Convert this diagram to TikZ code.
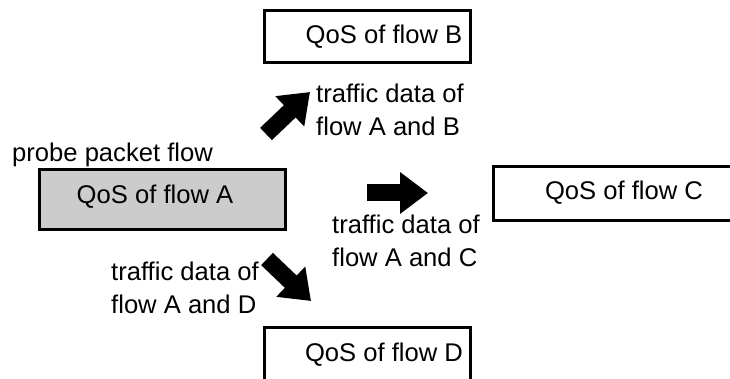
\documentclass[tikz,border=0pt]{standalone}
\usepackage{fontspec}
\setmainfont{Liberation Sans}
\usetikzlibrary{arrows.meta}
\begin{document}
\begin{tikzpicture}[x=1pt,y=-1pt,
  every node/.style={font=\fontsize{25.6}{33}\selectfont},
  qosbox/.style={draw, line width=3pt, minimum height=54pt, inner sep=0pt},
  label/.style={align=left, anchor=west, inner sep=0pt},
  blockarrow/.style={line width=17pt, -{Triangle[length=28pt,width=40pt]}}]
  \useasboundingbox (0,0) rectangle (730,379);
  \begin{scope}
  \clip (0,0) rectangle (730,379);
  % boxes for the QoS of each flow
  \node[qosbox, fill=black!20, minimum width=246pt, minimum height=60pt] (qa) at (162,200) {};
  \node[qosbox, minimum width=206pt, minimum height=52pt] (qb) at (367,37) {};
  \node[qosbox, minimum width=260pt] (qc) at (623,194) {};
  \node[qosbox, minimum width=206pt, minimum height=60pt] (qd) at (367,357) {};
  \end{scope}
  \node[inner sep=0pt] (ta) at (155,197) {QoS of flow A};
  \node[inner sep=0pt] (tb) at (384,37) {QoS of flow B};
  \node[inner sep=0pt] (tc) at (624,193) {QoS of flow C};
  \node[inner sep=0pt] (td) at (384,355) {QoS of flow D};
  \node[label] (probe) at (12,155) {probe packet flow};
  % traffic data labels
  \node[label] (lb) at (316,110) {traffic data of\\flow A and B};
  \node[label] (lc) at (332,241) {traffic data of\\flow A and C};
  \node[label] (ld) at (111,288) {traffic data of\\flow A and D};
  % transfer arrows
  \coordinate (b0) at (266,134);
  \coordinate (b1) at (310,92);
  \coordinate (c0) at (367,193);
  \coordinate (c1) at (428,193);
  \coordinate (d0) at (267,259);
  \coordinate (d1) at (311,301);
  \draw[blockarrow] (b0) -- (b1);
  \draw[blockarrow] (c0) -- (c1);
  \draw[blockarrow] (d0) -- (d1);
\end{tikzpicture}
\end{document}
